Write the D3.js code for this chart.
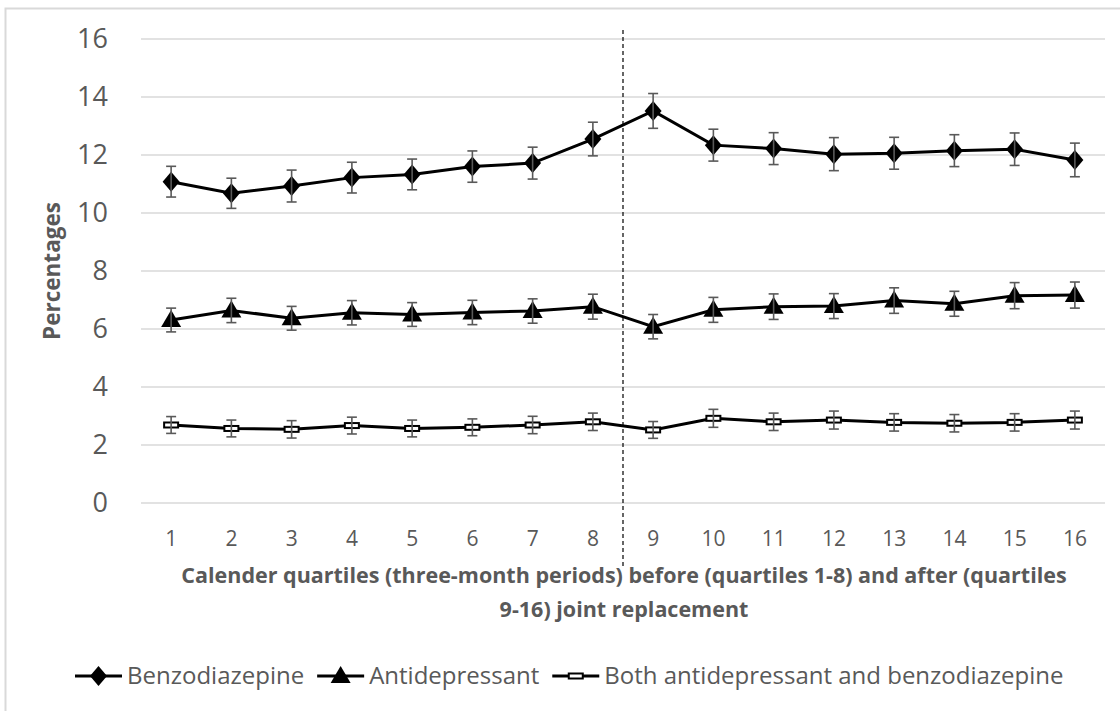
<!DOCTYPE html>
<html>
<head>
<meta charset="utf-8">
<script src="https://cdn.jsdelivr.net/npm/d3@7"></script>
<style>
  body { margin: 0; background: #fff; }
  svg text { font-family: "Open Sans", sans-serif; }
</style>
</head>
<body>
<svg id="drawing_region"></svg>
<script>
const quartiles = ['1','2','3','4','5','6','7','8','9','10','11','12','13','14','15','16'];
const yTicks = [0, 2, 4, 6, 8, 10, 12, 14, 16];

const benzo = [11.08, 10.68, 10.93, 11.22, 11.33, 11.6, 11.72, 12.55, 13.52, 12.34, 12.22, 12.03, 12.06, 12.15, 12.2, 11.83];
const benzoErr = [0.53, 0.52, 0.55, 0.53, 0.53, 0.54, 0.55, 0.58, 0.6, 0.55, 0.55, 0.57, 0.55, 0.55, 0.56, 0.58];
const antidep = [6.31, 6.64, 6.37, 6.56, 6.5, 6.57, 6.62, 6.77, 6.08, 6.66, 6.77, 6.79, 6.98, 6.87, 7.15, 7.17];
const antidepErr = [0.41, 0.42, 0.41, 0.42, 0.41, 0.42, 0.42, 0.43, 0.42, 0.43, 0.44, 0.43, 0.44, 0.43, 0.45, 0.45];
const both = [2.69, 2.57, 2.54, 2.67, 2.57, 2.61, 2.69, 2.8, 2.52, 2.92, 2.8, 2.86, 2.78, 2.75, 2.78, 2.86];
const bothErr = [0.29, 0.29, 0.3, 0.29, 0.29, 0.29, 0.3, 0.3, 0.29, 0.31, 0.3, 0.31, 0.3, 0.3, 0.3, 0.31];

const seriesNames = ['Benzodiazepine', 'Antidepressant', 'Both antidepressant and benzodiazepine'];

const width = 1120, height = 711;
const margin = {top: 39, right: 15, bottom: 208, left: 141};
const gray = '#595959';

const svg = d3.select('#drawing_region')
    .attr('width', width)
    .attr('height', height);

// chart area border
svg.append('rect')
    .attr('x', 5.5).attr('y', 8.5)
    .attr('width', width + 20).attr('height', height + 20)
    .attr('fill', 'none')
    .attr('stroke', '#d9d9d9')
    .attr('stroke-width', 2);

const xscale = d3.scaleBand()
    .domain(quartiles)
    .range([margin.left, width - margin.right]);

const yscale = d3.scaleLinear()
    .domain([0, 16])
    .range([height - margin.bottom, margin.top]);

const cx = d => xscale(d) + xscale.bandwidth() / 2;

// gridlines
svg.append('g')
    .selectAll('line')
    .data(yTicks)
    .join('line')
    .attr('x1', margin.left)
    .attr('x2', width - margin.right)
    .attr('y1', d => yscale(d))
    .attr('y2', d => yscale(d))
    .attr('stroke', '#d9d9d9')
    .attr('stroke-width', 1.5);

// y tick labels
const yaxis = d3.axisLeft(yscale).tickValues(yTicks).tickSize(0).tickPadding(33);
svg.append('g')
    .attr('transform', `translate(${margin.left}, 0)`)
    .call(yaxis)
    .call(g => g.select('.domain').remove())
    .selectAll('text')
    .attr('fill', gray)
    .attr('font-size', 27)
    .attr('font-family', 'Lato, "Open Sans", sans-serif');

// x tick labels
const xaxis = d3.axisBottom(xscale).tickSize(0).tickPadding(0);
svg.append('g')
    .attr('transform', `translate(0, ${yscale(0)})`)
    .call(xaxis)
    .call(g => g.select('.domain').remove())
    .selectAll('text')
    .attr('y', 43)
    .attr('dy', null)
    .attr('fill', gray)
    .attr('font-size', 21)
    .attr('font-family', 'Lato, "Open Sans", sans-serif');

// dashed separator between quartile 8 and 9
svg.append('line')
    .attr('x1', xscale('9'))
    .attr('x2', xscale('9'))
    .attr('y1', 30)
    .attr('y2', 566)
    .attr('stroke', '#000')
    .attr('stroke-width', 1.2)
    .attr('stroke-dasharray', '4,3');

// axis titles
svg.append('text')
    .attr('transform', `translate(60, ${yscale(8)}) rotate(-90)`)
    .attr('text-anchor', 'middle')
    .attr('fill', gray)
    .attr('font-weight', 'bold')
    .attr('font-size', 22.5)
    .text('Percentages');

const xtitle = svg.append('text')
    .attr('text-anchor', 'middle')
    .attr('fill', gray)
    .attr('font-weight', 'bold')
    .attr('font-size', 21.5);
xtitle.append('tspan')
    .attr('x', 624).attr('y', 583)
    .text('Calender quartiles (three-month periods) before (quartiles 1-8) and after (quartiles');
xtitle.append('tspan')
    .attr('x', 624).attr('y', 617)
    .text('9-16) joint replacement');

// series
const series = [
    {name: seriesNames[0], values: benzo, err: benzoErr, marker: 'diamond'},
    {name: seriesNames[1], values: antidep, err: antidepErr, marker: 'triangle'},
    {name: seriesNames[2], values: both, err: bothErr, marker: 'dash'}
];

const line = d3.line()
    .x((d, i) => cx(quartiles[i]))
    .y(d => yscale(d));

function drawMarker(g, type) {
    if (type === 'diamond') {
        g.append('path').attr('d', 'M0,-10L8.5,0L0,10L-8.5,0Z').attr('fill', '#000');
    } else if (type === 'triangle') {
        g.append('path').attr('d', 'M0,-10L10,7L-10,7Z').attr('fill', '#000');
    } else {
        g.append('rect').attr('x', -7).attr('y', -2.5).attr('width', 14).attr('height', 5)
            .attr('fill', '#fff').attr('stroke', '#000').attr('stroke-width', 2);
    }
}

series.forEach(s => {
    const g = svg.append('g');

    g.append('path')
        .datum(s.values)
        .attr('d', line)
        .attr('fill', 'none')
        .attr('stroke', '#000')
        .attr('stroke-width', 3);

    s.values.forEach((v, i) => {
        const m = g.append('g').attr('transform', `translate(${cx(quartiles[i])}, ${yscale(v)})`);
        drawMarker(m, s.marker);
    });

    // error bars
    const eb = g.append('g')
        .attr('stroke', gray)
        .attr('stroke-width', 1.6);
    s.values.forEach((v, i) => {
        const x = cx(quartiles[i]);
        const y1 = yscale(v + s.err[i]);
        const y0 = yscale(v - s.err[i]);
        eb.append('line').attr('x1', x).attr('x2', x).attr('y1', y1).attr('y2', y0);
        eb.append('line').attr('x1', x - 5).attr('x2', x + 5).attr('y1', y1).attr('y2', y1);
        eb.append('line').attr('x1', x - 5).attr('x2', x + 5).attr('y1', y0).attr('y2', y0);
    });
});

// legend
const legend = svg.append('g').attr('transform', 'translate(75, 676)');
let lx = 0;
series.forEach(s => {
    const item = legend.append('g').attr('transform', `translate(${lx}, 0)`);
    item.append('line')
        .attr('x1', 0).attr('x2', 47)
        .attr('stroke', '#000').attr('stroke-width', 3);
    const m = item.append('g').attr('transform', 'translate(23.5, 0)');
    drawMarker(m, s.marker);
    const t = item.append('text')
        .attr('x', 52)
        .attr('dy', '0.35em')
        .attr('fill', gray)
        .attr('font-size', 24)
        .text(s.name);
    lx += 52 + t.node().getComputedTextLength() + 13;
});
</script>
</body>
</html>
